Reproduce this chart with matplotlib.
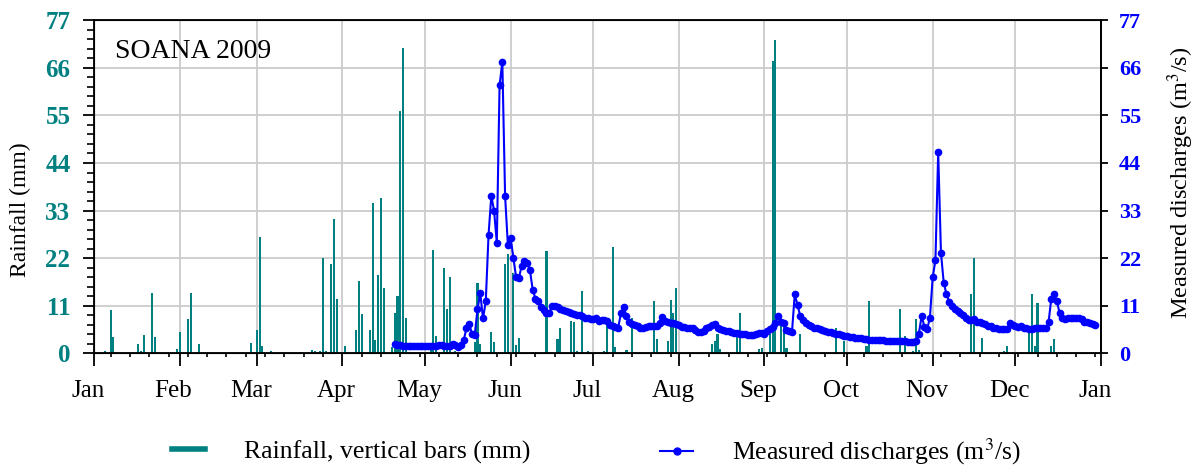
import numpy as np
import matplotlib
matplotlib.use('agg')
from matplotlib import pyplot as plt
import matplotlib.dates as mdates
from matplotlib.ticker import MultipleLocator
from matplotlib.lines import Line2D
from matplotlib.transforms import ScaledTranslation

plt.rcParams['font.family'] = 'Liberation Serif'
plt.rcParams['mathtext.fontset'] = 'stix'

year_start = np.datetime64('2009-01-01')
year_end = np.datetime64('2010-01-01')

# daily rainfall (day of year, mm), only rainy days
rain_day = [4, 6, 7, 16, 17, 18, 21, 22, 30, 31, 34, 35, 38, 57, 59, 60, 61, 64,
            75, 79, 80, 82, 83, 84, 86, 87, 88, 91, 95, 96, 97, 100, 101, 102, 103,
            104, 105, 108, 109, 110, 111, 112, 113, 122, 123, 124, 127, 128, 129,
            131, 138, 139, 140, 143, 144, 145, 149, 150, 152, 153, 154, 159, 164,
            168, 169, 173, 174, 175, 177, 179, 185, 186, 188, 189, 193, 195, 198,
            203, 204, 208, 209, 210, 211, 224, 225, 226, 227, 233, 234, 241, 242,
            243, 245, 246, 247, 249, 250, 251, 252, 255, 256, 269, 272, 280, 281,
            292, 294, 297, 298, 299, 305, 318, 319, 322, 330, 331, 336, 339, 340,
            341, 342, 347, 348]
rain_mm = [0.5, 10.0, 3.8, 2.0, 0.5, 4.2, 14.0, 3.8, 0.9, 4.9, 7.9, 14.0, 2.1, 2.4, 5.3, 26.8, 1.6, 0.4,
           0.2, 0.7, 0.4, 0.4, 22.1, 0.4, 20.7, 31.1, 12.4, 1.6, 5.3, 16.6, 9.0, 5.3, 34.8, 3.0, 18.0,
           35.8, 15.0, 1.5, 9.2, 13.2, 56.0, 70.6, 8.2, 0.7, 23.8, 3.9, 19.7, 10.1, 17.6,
           0.4, 2.5, 16.1, 2.0, 0.3, 4.9, 2.5, 20.7, 22.9, 18.6, 1.8, 3.5, 0.2, 23.7,
           3.3, 5.7, 7.4, 7.2, 0.4, 14.3, 0.5, 0.4, 6.4, 24.6, 1.3, 0.8, 8.1, 0.3,
           12.1, 3.3, 2.7, 12.3, 9.2, 15.0, 2.2, 2.7, 4.4, 0.9, 4.4, 9.2, 0.9, 1.2,
           0.3, 4.5, 67.7, 72.5, 7.4, 7.6, 1.1, 0.2, 0.2, 4.5, 5.7, 2.8, 1.6, 12.0,
           10.3, 4.0, 0.4, 7.8, 0.7, 0.3, 13.6, 21.9, 3.5, 0.5, 1.7, 0.3, 4.7, 13.6,
           1.7, 11.5, 1.7, 3.2]

# measured daily discharge (m3/s) from 20 April
flow_start = np.datetime64('2009-04-20')
flow = [2.2, 1.9, 1.8, 1.7, 1.7, 1.6, 1.6, 1.6, 1.6, 1.6, 1.6, 1.6, 1.6, 1.6,
        1.6, 1.7, 1.8, 1.8, 1.7, 1.6, 1.7, 2.1, 1.8, 1.5, 1.8, 3.0, 5.7, 6.7, 4.5, 4.2,
        10.1, 13.8, 8.0, 12.0, 27.3, 36.4, 33.0, 25.5, 62.0, 67.4, 36.4, 25.1,
        26.7, 22.1, 17.5, 17.3, 20.2, 21.3, 20.9, 19.2, 14.7, 12.6, 12.1, 10.7,
        9.9, 9.3, 9.3, 10.9, 10.9, 10.6, 10.3, 9.9, 9.7, 9.5, 9.2, 9.1, 8.9, 8.7,
        8.5, 8.2, 8.0, 7.8, 7.8, 8.2, 7.3, 7.6, 7.6, 7.3, 6.6, 6.2, 6.0, 5.9, 9.2,
        10.6, 8.6, 7.2, 6.8, 6.5, 6.2, 5.9, 5.7, 6.0, 6.3, 6.2, 6.2, 6.2, 7.0, 8.4,
        7.4, 7.1, 7.0, 6.9, 6.8, 6.5, 6.1, 6.0, 5.9, 5.9, 5.8, 5.4, 4.9, 4.9, 5.2,
        5.7, 6.1, 6.5, 6.7, 5.8, 5.5, 5.3, 5.1, 5.0, 4.9, 4.7, 4.6, 4.5, 4.4, 4.3,
        4.2, 4.2, 4.2, 4.3, 4.6, 4.6, 4.5, 5.2, 5.6, 6.1, 7.0, 8.6, 7.2, 6.9, 5.3,
        5.0, 4.9, 13.6, 11.1, 8.6, 7.6, 6.9, 6.5, 6.2, 5.9, 5.7, 5.5, 5.3, 5.1,
        4.9, 4.8, 4.7, 4.5, 4.4, 4.2, 4.0, 3.9, 3.7, 3.6, 3.4, 3.4, 3.4, 3.3, 3.2,
        3.1, 3.0, 3.0, 2.9, 2.9, 2.9, 2.8, 2.8, 2.8, 2.8, 2.8, 2.8, 2.7, 2.7, 2.6,
        2.6, 2.6, 2.7, 4.5, 8.6, 6.1, 5.5, 8.2, 17.5, 21.5, 46.5, 23.2, 16.3, 13.6,
        11.9, 10.9, 10.3, 9.7, 9.3, 8.8, 8.0, 7.6, 7.6, 7.9, 7.2, 7.1, 7.0, 6.7,
        6.3, 6.2, 5.9, 5.8, 5.5, 5.5, 5.5, 5.6, 6.9, 6.5, 6.2, 6.1, 6.2, 5.9, 5.8,
        5.5, 5.5, 5.8, 5.9, 5.9, 5.8, 5.9, 7.1, 12.6, 13.6, 12.0, 9.3, 8.0, 7.8,
        8.0, 8.1, 8.2, 8.2, 8.2, 7.8, 7.2, 7.1, 6.9, 6.7, 6.5]

y_ticks = [0, 11, 22, 33, 44, 55, 66, 77]

teal = '#008080'
blue = '#0000ff'

fig = plt.figure(figsize=(11.98, 4.71), dpi=100)
ax = fig.add_axes([0.0785, 0.2505, 0.8405, 0.706])

rain_dates = year_start + np.array(rain_day)
ax.bar(rain_dates, rain_mm, width=0.75, color=teal, zorder=2)
ax.set_xlim(year_start, year_end)
ax.set_ylim(0, 77)
ax.set_yticks(y_ticks)
ax.yaxis.set_minor_locator(MultipleLocator(2.2))
ax.xaxis.set_major_locator(mdates.MonthLocator())
ax.xaxis.set_major_formatter(mdates.DateFormatter('%b'))
ax.xaxis.set_minor_locator(mdates.WeekdayLocator(byweekday=mdates.WE))
ax.grid(True, which='major', color='#cccccc', lw=1.3)
ax.set_axisbelow(True)

for s in ax.spines.values():
    s.set_linewidth(1.3)
ax.tick_params(axis='y', which='major', direction='out', length=8, width=1.3,
               pad=9, labelsize=18, labelcolor=teal)
ax.tick_params(axis='y', which='minor', direction='out', length=5, width=1.2)
ax.tick_params(axis='x', which='major', direction='out', length=9.5, width=1.3,
               pad=10, labelsize=18)
ax.tick_params(axis='x', which='minor', direction='out', length=3, width=1.2)
for lbl in ax.get_yticklabels():
    lbl.set_fontweight('bold')
shift = ScaledTranslation(-6 / 100, 0, fig.dpi_scale_trans)
for lbl in ax.get_xticklabels():
    lbl.set_transform(lbl.get_transform() + shift)

ax2 = ax.twinx()
flow_dates = flow_start + np.arange(len(flow))
ax2.plot(flow_dates, flow, '-o', color=blue, lw=1.5, ms=4.5, zorder=3)
ax2.set_ylim(0, 77)
ax2.set_yticks(y_ticks)
ax2.tick_params(axis='y', direction='out', length=5, width=1.3, pad=8,
                labelsize=16, labelcolor=blue)
for lbl in ax2.get_yticklabels():
    lbl.set_fontweight('bold')
ax2.spines['right'].set_linewidth(1.3)

ax.text(0.021, 0.907, 'SOANA 2009', transform=ax.transAxes, fontsize=20,
        ha='left', va='center')

fig.text(20 / 1198, 1 - 210 / 471, 'Rainfall (mm)', rotation=90, fontsize=17,
         ha='center', va='center')
fig.text(1181 / 1198, 1 - 183 / 471, 'Measured discharges (m$^3$/s)', rotation=90,
         fontsize=17.5, ha='center', va='center')

h1 = Line2D([], [], color=teal, lw=4)
h2 = Line2D([], [], color=blue, lw=1.5, marker='o', ms=5)
fig.legend([h1], ['Rainfall, vertical bars (mm)'], loc='center left',
           bbox_to_anchor=(172 / 1198, 1 - 452 / 471), frameon=False, fontsize=18.5,
           borderpad=0, borderaxespad=0, handlelength=1.3, handletextpad=1.5)
fig.legend([h2], ['Measured discharges (m$^3$/s)'], loc='center left',
           bbox_to_anchor=(660 / 1198, 1 - 452 / 471), frameon=False, fontsize=18.5,
           borderpad=0, borderaxespad=0, handlelength=1.3, handletextpad=1.5)

fig.savefig('out.png', dpi=100)
